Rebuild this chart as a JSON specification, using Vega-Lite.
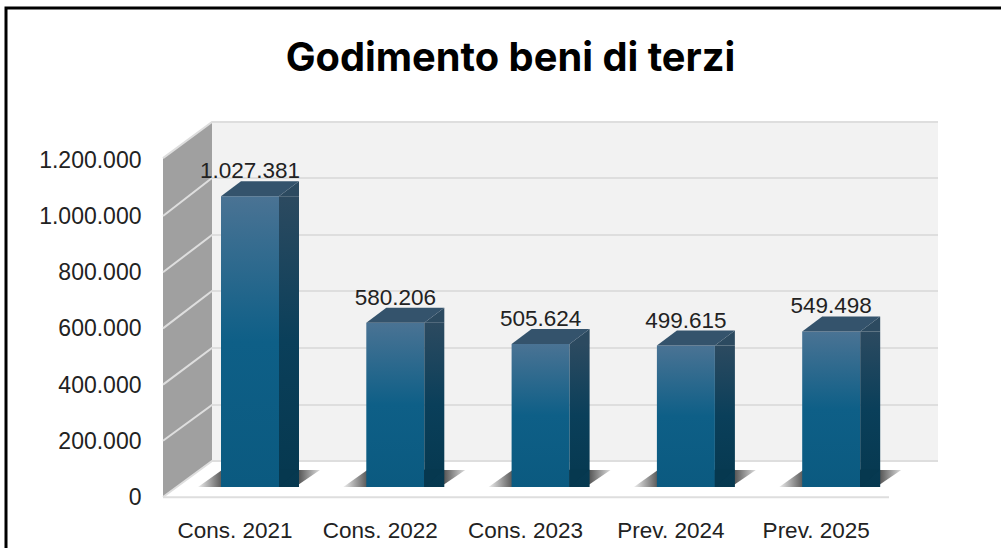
{"$schema":"https://vega.github.io/schema/vega-lite/v6.json","width":775,"height":375,"autosize":{"type":"none"},"padding":{"left":163,"right":63,"top":122,"bottom":51},"background":"white","config":{"view":{"stroke":null}},"title":{"text":"Godimento beni di terzi","frame":"group","anchor":"middle","dx":-40,"offset":-78,"font":"Inter","fontSize":39.8,"fontWeight":"bold","color":"#000000"},"datasets":{"bars":[{"cat":"Cons. 2021","value":1027381,"label":"1.027.381"},{"cat":"Cons. 2022","value":580206,"label":"580.206"},{"cat":"Cons. 2023","value":505624,"label":"505.624"},{"cat":"Prev. 2024","value":499615,"label":"499.615"},{"cat":"Prev. 2025","value":549498,"label":"549.498"}],"walls":[{"part":"side","x":0,"y":0,"y2":1206000},{"part":"side","x":49,"y":128114,"y2":1334520},{"part":"back","x":49,"y":128114,"y2":1334520},{"part":"back","x":775,"y":128114,"y2":1334520}],"grid":[{"line":"floor","x":0,"y":-1000},{"line":"floor","x":726,"y":-1000},{"line":"g0","x":0,"y":0},{"line":"g0","x":49,"y":128114},{"line":"g0","x":775,"y":128114},{"line":"g1","x":0,"y":200000},{"line":"g1","x":49,"y":327402},{"line":"g1","x":775,"y":327402},{"line":"g2","x":0,"y":400000},{"line":"g2","x":49,"y":530249},{"line":"g2","x":775,"y":530249},{"line":"g3","x":0,"y":600000},{"line":"g3","x":49,"y":733096},{"line":"g3","x":775,"y":733096},{"line":"g4","x":0,"y":800000},{"line":"g4","x":49,"y":932384},{"line":"g4","x":775,"y":932384},{"line":"g5","x":0,"y":1000000},{"line":"g5","x":49,"y":1135231},{"line":"g5","x":775,"y":1135231},{"line":"g6","x":0,"y":1206000},{"line":"g6","x":49,"y":1334520},{"line":"g6","x":775,"y":1334520}],"frame":[{"x":-157,"y":-190000},{"x":-157,"y":1740000},{"x":840,"y":1740000}]},"layer":[{"layer":[{"data":{"name":"walls"},"mark":{"type":"area","opacity":1,"interpolate":"linear"},"encoding":{"x":{"field":"x","type":"quantitative","scale":{"domain":[0,775],"nice":false,"zero":false},"axis":null},"y":{"field":"y","type":"quantitative","scale":{"domain":[0,1334520],"nice":false},"axis":{"orient":"left","values":[0,200000,400000,600000,800000,1000000,1200000],"labelExpr":"replace(format(datum.value,','),/,/g,'.')","grid":false,"domain":false,"ticks":false,"title":null,"labelPadding":22,"labelOffset":0.5,"labelFont":"Liberation Sans","labelFontSize":23,"labelColor":"#222222"}},"y2":{"field":"y2"},"color":{"field":"part","type":"nominal","scale":{"domain":["side","back"],"range":["#a0a0a0","#f2f2f2"]},"legend":null}}},{"data":{"name":"grid"},"mark":{"type":"line","strokeWidth":2,"color":"#dedede","clip":false},"encoding":{"x":{"field":"x","type":"quantitative"},"y":{"field":"y","type":"quantitative"},"detail":{"field":"line"},"order":{"field":"x","type":"quantitative"}}},{"data":{"name":"frame"},"mark":{"type":"line","strokeWidth":3,"color":"#000000","clip":false},"encoding":{"x":{"field":"x","type":"quantitative"},"y":{"field":"y","type":"quantitative"},"order":{"field":"y","type":"quantitative"}}}]},{"data":{"name":"bars"},"encoding":{"x":{"field":"cat","type":"nominal","sort":null,"scale":{"type":"band","range":[14.35,740.85],"paddingInner":0.6,"paddingOuter":0.3},"axis":{"orient":"bottom","title":null,"domain":false,"ticks":false,"labelAngle":0,"labelOffset":-15,"labelPadding":22,"labelFont":"Liberation Sans","labelFontSize":22.5,"labelColor":"#222222"}},"y":{"field":"value","type":"quantitative","scale":{"domain":[0,1200000],"range":[365,25.4],"nice":false},"axis":null}},"layer":[{"mark":{"type":"point","filled":true,"size":4,"opacity":1,"strokeWidth":0,"shape":"M-52,0L-28,-17L70,-17L45,0Z","fill":{"x1":0,"y1":0,"x2":1,"y2":0,"gradient":"linear","stops":[{"offset":0,"color":"#eeeeee"},{"offset":0.2,"color":"#555555"},{"offset":0.78,"color":"#333333"},{"offset":1,"color":"#dddddd"}]}},"encoding":{"y":{"datum":0,"type":"quantitative"}}},{"mark":{"type":"bar","width":58,"fill":{"x1":0,"y1":0,"x2":0,"y2":1,"gradient":"linear","stops":[{"offset":0,"color":"#4a7394"},{"offset":0.5,"color":"#0e5f87"},{"offset":1,"color":"#0b5a80"}]}}},{"mark":{"type":"bar","width":20,"xOffset":39,"y2Offset":-17,"fill":{"x1":0,"y1":0,"x2":0,"y2":1,"gradient":"linear","stops":[{"offset":0,"color":"#2c4a60"},{"offset":0.5,"color":"#0a3f5a"},{"offset":1,"color":"#06384f"}]}}},{"mark":{"type":"point","filled":true,"size":4,"opacity":1,"strokeWidth":0,"shape":"M29,0L49,-15L49,0Z","fill":"#2c4a60"}},{"mark":{"type":"point","filled":true,"size":4,"opacity":1,"strokeWidth":0,"shape":"M-29,0L-9,-15L49,-15L29,0Z","fill":"#34536c"}},{"mark":{"type":"point","filled":true,"size":4,"opacity":1,"strokeWidth":0,"shape":"M29,-17.5L29,0L49,-17.5Z","fill":"#06384f"},"encoding":{"y":{"datum":0,"type":"quantitative"}}},{"mark":{"type":"text","dy":-25,"font":"Liberation Sans","fontSize":22.5,"color":"#222222","baseline":"middle"},"encoding":{"text":{"field":"label"}}}]}],"resolve":{"scale":{"x":"independent","y":"independent"},"axis":{"x":"independent","y":"independent"}}}
